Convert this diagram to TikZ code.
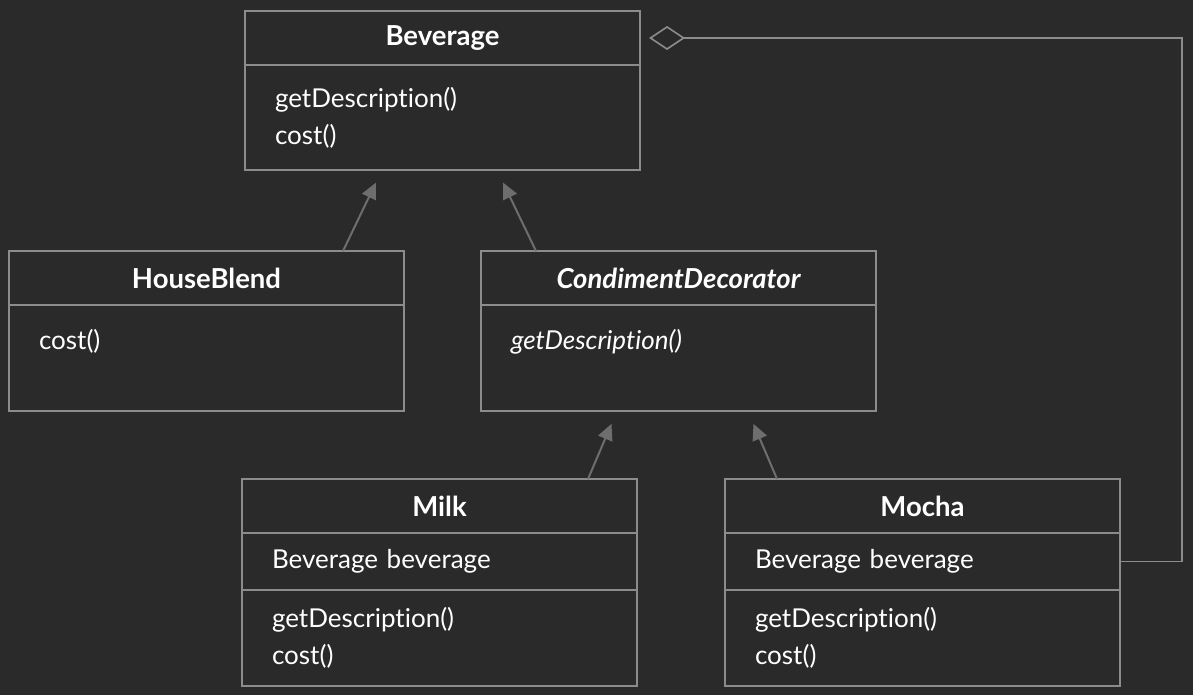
\documentclass[tikz,border=0pt]{standalone}
\usepackage{fontspec}
\setmainfont{Lato}[Ligatures=CommonOff]
\usetikzlibrary{arrows.meta,positioning}

\definecolor{bgdark}{HTML}{2A2A2A}
\definecolor{boxline}{HTML}{8C8C8C}
\definecolor{arrowgray}{HTML}{6E6E6E}

\newcommand\partfont{\fontsize{26}{37}\selectfont\spaceskip=0.4em plus 0.1em\relax}

\tikzset{
  classhead/.style={draw=boxline, line width=1.6pt, fill=bgdark, minimum width=395pt,
    minimum height=54pt, inner sep=0pt, outer sep=0pt, text=white,
    font=\fontsize{27.5}{32}\selectfont\bfseries},
  classpart/.style={draw=boxline, line width=1.6pt, fill=bgdark, text width=335pt,
    inner xsep=30pt, inner ysep=0pt, outer sep=0pt, align=left, text=white,
    font=\partfont},
  inherit/.style={arrowgray, line width=2pt, -{Triangle[length=16pt,width=15pt]}, shorten >=14pt},
  aggregate/.style={boxline, line width=1.6pt, {Diamond[open,length=36pt,width=24pt]}-, shorten <=9pt},
}

\begin{document}
\begin{tikzpicture}
\fill[bgdark] (0,0) rectangle (1193pt,-695pt);
\useasboundingbox (0,0) rectangle (1193pt,-695pt);

% component
\node[classhead, anchor=north west] (bev) at (245pt,-11pt) {Beverage};
\node[classpart, minimum height=105pt, below=0pt of bev] (bevm) {getDescription()\\cost()};

% concrete component
\node[classhead, anchor=north west] (hb) at (9pt,-251pt) {HouseBlend};
\node[classpart, minimum height=106pt, below=0pt of hb] (hbm) {cost()\\\mbox{}};

% decorator
\node[classhead, anchor=north west] (cd) at (481pt,-251pt) {\itshape CondimentDecorator};
\node[classpart, minimum height=106pt, below=0pt of cd] (cdm) {\itshape getDescription()\\\mbox{}};

% concrete decorators
\node[classhead, anchor=north west] (milk) at (242pt,-479pt) {Milk};
\node[classpart, minimum height=57pt, below=0pt of milk] (milkf) {Beverage beverage};
\node[classpart, minimum height=96pt, below=0pt of milkf] (milkm) {getDescription()\\cost()};

\node[classhead, anchor=north west] (mocha) at (725pt,-479pt) {Mocha};
\node[classpart, minimum height=57pt, below=0pt of mocha] (mochaf) {Beverage beverage};
\node[classpart, minimum height=96pt, below=0pt of mochaf] (mocham) {getDescription()\\cost()};

% inheritance
\draw[inherit] ([xshift=334pt]hb.north west) -- ([xshift=137pt]bevm.south west);
\draw[inherit] ([xshift=55pt]cd.north west) -- ([xshift=252pt]bevm.south west);
\draw[inherit] ([xshift=346pt]milk.north west) -- ([xshift=136pt]cdm.south west);
\draw[inherit] ([xshift=52pt]mocha.north west) -- ([xshift=267pt]cdm.south west);

% wrapped beverage
\draw[aggregate] (bev.east) -- ++(542pt,0) |- (mochaf.east);
\end{tikzpicture}
\end{document}
